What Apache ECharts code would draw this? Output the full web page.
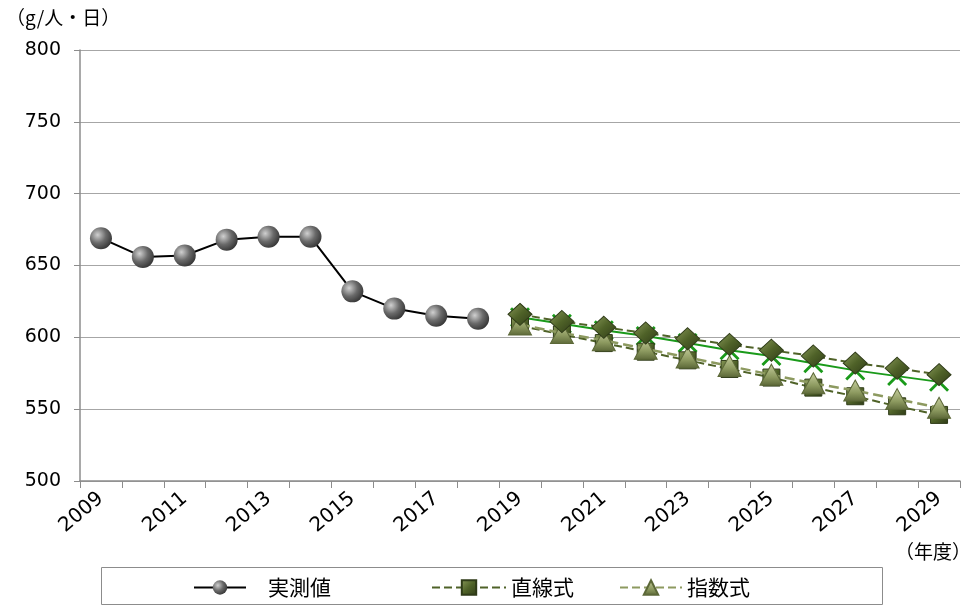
<!DOCTYPE html>
<html><head><meta charset="utf-8">
<script src="https://cdn.jsdelivr.net/npm/echarts@6/dist/echarts.min.js"></script>
<style>html,body{margin:0;padding:0;background:#fff}#c{width:967px;height:608px}</style>
</head><body><div id="c"></div>
<script>
const years = ['2009','2010','2011','2012','2013','2014','2015','2016','2017','2018','2019','2020','2021','2022','2023','2024','2025','2026','2027','2028','2029'];
const actual = [669, 656, 657, 668, 670, 670, 632, 620, 615, 613, null, null, null, null, null, null, null, null, null, null, null];
const linearFit = [null, null, null, null, null, null, null, null, null, null, 608, 602, 596, 590, 584, 578, 572, 565, 559, 552, 546];
const expFit = [null, null, null, null, null, null, null, null, null, null, 609, 603, 598, 592, 586, 580, 574, 568, 563, 557, 551];
const upperFit = [null, null, null, null, null, null, null, null, null, null, 616, 611, 607, 603, 599, 595, 591, 587, 582, 578.5, 574];
const crossFit = [null, null, null, null, null, null, null, null, null, null, 614, 609.5, 605, 601, 596, 591, 587, 582, 577, 573, 569];
const yTicks = [500, 550, 600, 650, 700, 750, 800];

const font = '"DejaVu Sans", Verdana, sans-serif';
const cjk = '"Noto Sans CJK JP", sans-serif';
const sphere = {type:'radial', x:0.35, y:0.35, r:0.75, colorStops:[{offset:0,color:'#d0d0d0'},{offset:0.5,color:'#6a6a6a'},{offset:1,color:'#2e2e2e'}]};
const darkOlive = {type:'linear', x:0, y:0, x2:1, y2:1, colorStops:[{offset:0,color:'#8a9a5a'},{offset:0.5,color:'#4f6228'},{offset:1,color:'#2f3b18'}]};
const lightOlive = {type:'linear', x:0, y:0, x2:0, y2:1, colorStops:[{offset:0,color:'#c8d0a0'},{offset:0.6,color:'#8d9a60'},{offset:1,color:'#5c6838'}]};
const xPath = 'path://M2,0 L10,8 L18,0 L20,2 L12,10 L20,18 L18,20 L10,12 L2,20 L0,18 L8,10 L0,2 Z';
const legText = {fontSize:21, fontFamily:cjk, color:'#000'};

const chart = echarts.init(document.getElementById('c'));
chart.setOption({
  animation:false,
  grid:{left:80, right:7, top:50, bottom:127},
  xAxis:{type:'category', data:years, boundaryGap:true,
    axisLine:{lineStyle:{color:'#8c8c8c', width:1.5}},
    axisTick:{show:true, interval:0, length:7, lineStyle:{color:'#8c8c8c'}},
    axisLabel:{interval:1, rotate:40, color:'#000', fontSize:20, fontFamily:font, margin:15}},
  yAxis:{type:'value', min:500, max:800, interval:50,
    axisLine:{show:true, lineStyle:{color:'#8c8c8c', width:1.5}},
    axisTick:{show:true, length:6, lineStyle:{color:'#8c8c8c'}},
    splitLine:{lineStyle:{color:'#a6a6a6', width:1}},
    axisLabel:{color:'#000', fontSize:19, fontFamily:font, margin:19,
      formatter: v => yTicks.includes(v) ? String(v) : ''}},
  legend:[
    {left:188, top:572, itemWidth:52, itemHeight:18, data:['実測値'], textStyle:Object.assign({padding:[0,0,0,17]}, legText)},
    {left:426, top:572, itemWidth:74, itemHeight:18, data:['直線式'], textStyle:Object.assign({padding:[0,0,0,0]}, legText)},
    {left:614, top:572, itemWidth:62, itemHeight:18, data:['指数式'], textStyle:Object.assign({padding:[0,0,0,0]}, legText)}
  ],
  graphic:[
    {type:'rect', shape:{x:101.5, y:567.5, width:781, height:37}, style:{fill:'none', stroke:'#8c8c8c', lineWidth:1}, silent:true},
    {type:'text', left:6, top:8, style:{text:'（g/人・日）', fontSize:19, fontFamily:cjk, fill:'#000'}},
    {type:'text', left:895, top:542, style:{text:'（年度）', fontSize:19, fontFamily:cjk, fill:'#000'}}
  ],
  series:[
    {name:'推計X', type:'line', data:crossFit, symbol:xPath, symbolSize:20, z:2,
      itemStyle:{color:'#1a9a1a'}, lineStyle:{color:'#1a9a1a', width:2, type:'solid'}},
    {name:'直線式', type:'line', data:linearFit, symbol:'rect', symbolSize:17, z:3,
      itemStyle:{color:darkOlive, borderColor:'#2f3b18', borderWidth:1}, lineStyle:{color:'#4f6228', width:2, type:'dashed'}},
    {name:'指数式', type:'line', data:expFit, symbol:'triangle', symbolSize:[23,21], z:4,
      itemStyle:{color:lightOlive, borderColor:'#5c6838', borderWidth:1}, lineStyle:{color:'#8d9a60', width:2.5, type:'dashed'}},
    {name:'推計D', type:'line', data:upperFit, symbol:'diamond', symbolSize:[24,22], z:5,
      itemStyle:{color:darkOlive, borderColor:'#2f3b18', borderWidth:1}, lineStyle:{color:'#4f6228', width:2, type:'dashed'}},
    {name:'実測値', type:'line', data:actual, symbol:'circle', symbolSize:22, z:6,
      itemStyle:{color:sphere}, lineStyle:{color:'#000', width:2}}
  ]
});
</script></body></html>
